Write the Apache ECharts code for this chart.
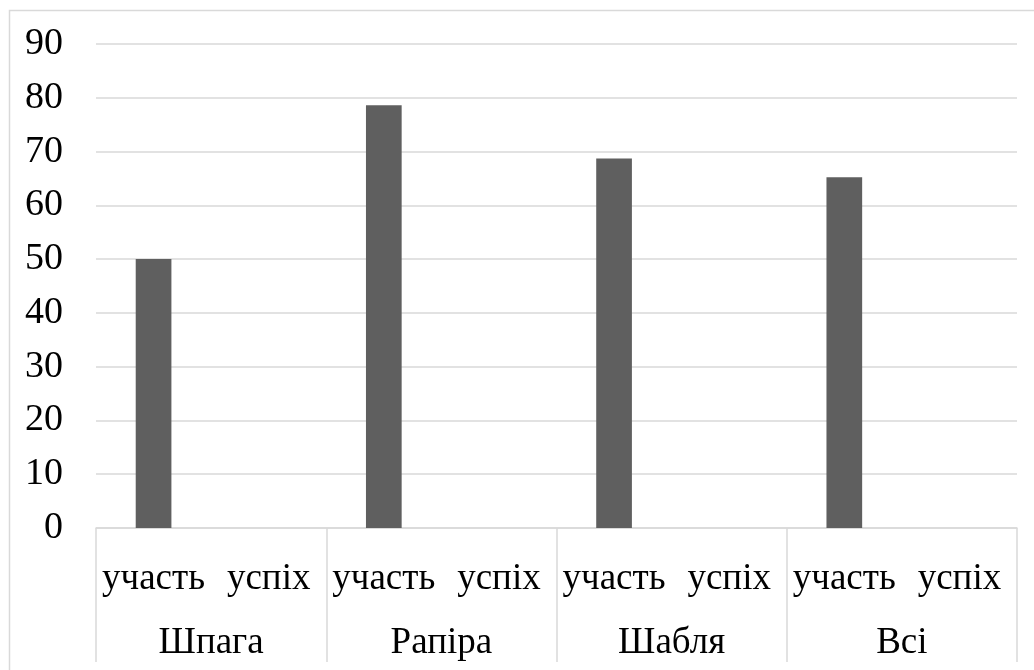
<!DOCTYPE html>
<html>
<head>
<meta charset="utf-8">
<title>Участь і успіх</title>
<script src="https://cdn.jsdelivr.net/npm/echarts@6/dist/echarts.min.js"></script>
<style>
  html, body { margin: 0; padding: 0; background: #ffffff; }
  #chart { width: 1034px; height: 670px; }
</style>
</head>
<body>
<div id="chart"></div>
<script>
// Weapon groups and the two measures shown under each group
const groups = ['Шпага', 'Рапіра', 'Шабля', 'Всі'];
const measures = ['участь', 'успіх'];

// Values per group: participation is plotted, success has no bars
const participation = [50, 78.6, 68.7, 65.2];
const success = [null, null, null, null];

// Y axis range
const yMin = 0;
const yMax = 90;
const yStep = 10;

// Flatten into the inner category level (group × measure)
const innerCats = [];
const barValues = [];
groups.forEach(function (g, i) {
  innerCats.push(measures[0]);
  barValues.push(participation[i]);
  innerCats.push(measures[1]);
  barValues.push(success[i]);
});

const FONT = '"Liberation Serif", "Times New Roman", serif';
const GRID_COLOR = '#d9d9d9';

const chart = echarts.init(document.getElementById('chart'), null, { renderer: 'canvas' });

chart.setOption({
  animation: false,
  backgroundColor: '#ffffff',
  grid: { left: 96, right: 17, top: 44, bottom: 142, containLabel: false },
  graphic: [{
    type: 'rect',
    shape: { x: 9.5, y: 10.5, width: 1100, height: 800 },
    style: { fill: 'none', stroke: GRID_COLOR, lineWidth: 1.5 },
    silent: true
  }],
  xAxis: [{
    type: 'category',
    data: innerCats,
    position: 'bottom',
    axisLine: { show: true, lineStyle: { color: GRID_COLOR, width: 1.5 } },
    axisTick: { show: false },
    axisLabel: {
      interval: 0, margin: 33,
      color: '#000', fontFamily: FONT, fontSize: 37
    }
  }, {
    type: 'category',
    data: groups,
    position: 'bottom',
    axisLine: { show: false },
    axisTick: { show: true, length: 134, lineStyle: { color: GRID_COLOR, width: 1.5 } },
    axisLabel: {
      interval: 0, margin: 97,
      color: '#000', fontFamily: FONT, fontSize: 37
    }
  }],
  yAxis: {
    type: 'value',
    min: yMin, max: yMax, interval: yStep,
    axisLine: { show: false },
    axisTick: { show: false },
    splitLine: { lineStyle: { color: GRID_COLOR, width: 1.5 } },
    axisLabel: { margin: 33, color: '#000', fontFamily: FONT, fontSize: 38 }
  },
  series: [{
    type: 'bar',
    xAxisIndex: 0,
    data: barValues,
    barWidth: '31%',
    itemStyle: { color: '#5f5f5f' }
  }]
});
</script>
</body>
</html>
